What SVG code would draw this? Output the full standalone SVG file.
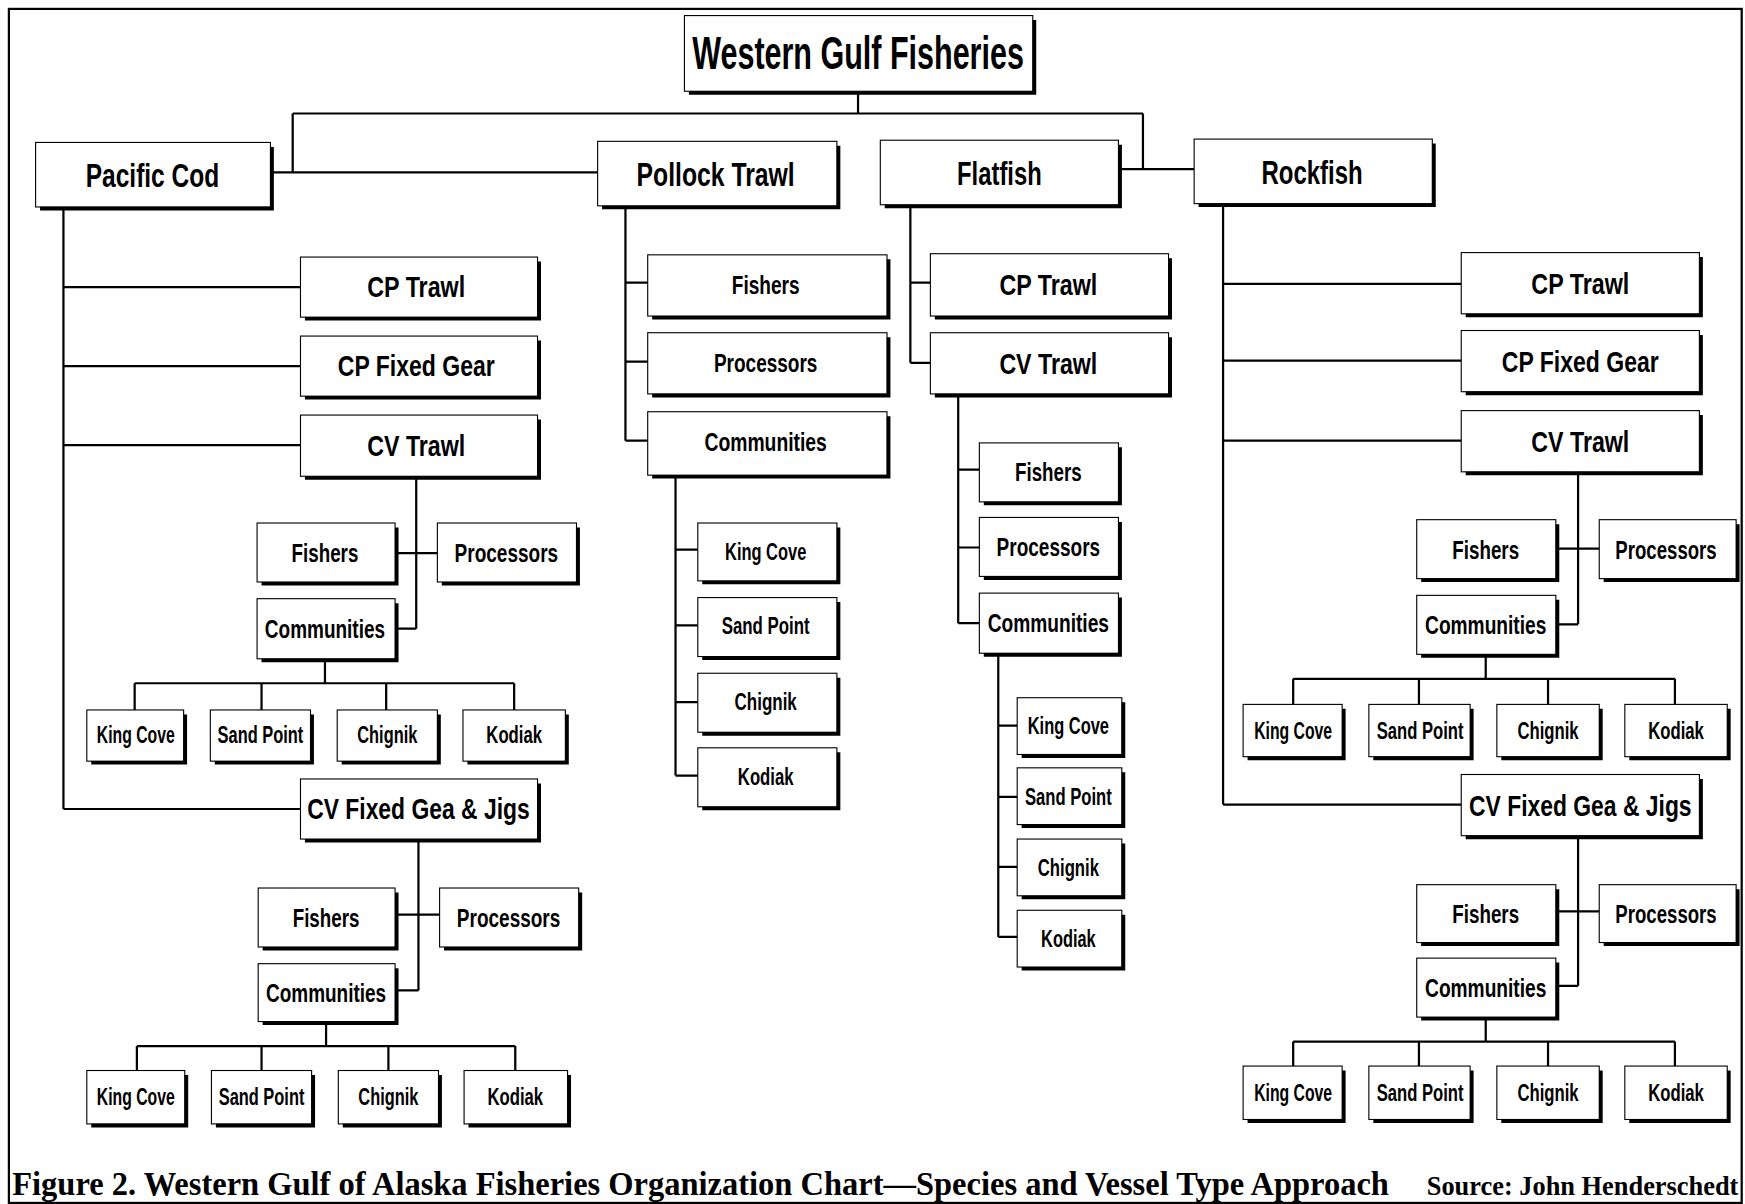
<svg xmlns="http://www.w3.org/2000/svg" width="1745" height="1204" viewBox="0 0 1745 1204">
<style>
  .box{fill:#fff;stroke:#000;stroke-width:1}
  .sh{fill:none;stroke:#000;stroke-width:3.2}
  .ln{fill:none;stroke:#000;stroke-width:2}
  .frame{fill:none;stroke:#000;stroke-width:2}
  text{font-family:"Liberation Sans",Arial,sans-serif;font-weight:bold;fill:#000;text-anchor:middle}
  .f41{font-size:41px}
  .f30{font-size:30px}
  .f27{font-size:27px}
  .f24{font-size:24px}
  .f21{font-size:21px}
  .cap{font-family:"Liberation Serif","Times New Roman",serif;font-weight:bold;text-anchor:start}
</style>
<rect x="0" y="0" width="1745" height="1204" fill="#fff"/>
<g transform="scale(1.1129,1.1128)">
<rect class="frame" x="8" y="8" width="1557" height="1073"/>

<!-- connectors -->
<g id="connectors">
<path class="ln" d="M771,82V102 M263,102H1027 M263,102V155 M1027,102V152 M243,155H537 M1005,152H1073"/>
<!-- Pacific Cod -->
<path class="ln" d="M57,186V727 M57,258H270 M57,329H270 M57,400H270 M57,727H270
 M374,428V565 M355,497H393 M355,565H374
 M292,592V614 M121,614H462 M121,614V638 M235,614V638 M347,614V638 M462,614V638
 M376,754V890 M355,822H395 M355,890H376
 M293,918V940 M123,940H463 M123,940V962 M235,940V962 M349,940V962 M463,940V962"/>
<!-- Pollock Trawl -->
<path class="ln" d="M562,185V396 M562,254H582 M562,325H582 M562,396H582
 M607,427V697 M607,494H627 M607,562H627 M607,631H627 M607,697H627"/>
<!-- Flatfish -->
<path class="ln" d="M818,184V326 M818,254H836 M818,326H836
 M861,354V560 M861,422H880 M861,492H880 M861,560H880
 M897,587V842 M897,652H914 M897,716H914 M897,779H914 M897,842H914"/>
<!-- Rockfish -->
<path class="ln" d="M1099,183V723 M1099,255H1313 M1099,324H1313 M1099,396H1313 M1099,723H1313
 M1418,424V561 M1398,493H1437 M1398,561H1418
 M1335,588V610 M1162,610H1505 M1162,610V633 M1275,610V633 M1391,610V633 M1505,610V633
 M1418,751V886 M1398,819H1437 M1398,886H1418
 M1335,914V936 M1162,936H1505 M1162,936V958 M1275,936V958 M1391,936V958 M1505,936V958"/>
</g>

<!-- root -->
<g id="n-root"><rect class="box" x="615" y="14" width="313" height="68"/><path class="sh" d="M619,83.5H929.5V18"/><text class="f41" x="771" y="62" textLength="298" lengthAdjust="spacingAndGlyphs">Western Gulf Fisheries</text></g>

<!-- species -->
<g id="n-pc"><rect class="box" x="32" y="128" width="211" height="58"/><path class="sh" d="M36,187.5H244.5V132"/><text class="f30" x="137" y="168" textLength="120" lengthAdjust="spacingAndGlyphs">Pacific Cod</text></g>
<g id="n-pt"><rect class="box" x="537" y="127" width="215" height="58"/><path class="sh" d="M541,186.5H753.5V131"/><text class="f30" x="643" y="167" textLength="142" lengthAdjust="spacingAndGlyphs">Pollock Trawl</text></g>
<g id="n-ff"><rect class="box" x="791" y="126" width="214" height="58"/><path class="sh" d="M795,185.5H1006.5V130"/><text class="f30" x="898" y="166" textLength="76" lengthAdjust="spacingAndGlyphs">Flatfish</text></g>
<g id="n-rf"><rect class="box" x="1073" y="125" width="214" height="58"/><path class="sh" d="M1077,184.5H1288.5V129"/><text class="f30" x="1179" y="165" textLength="91" lengthAdjust="spacingAndGlyphs">Rockfish</text></g>

<!-- Pacific Cod branch -->
<g id="n-pc-cpt"><rect class="box" x="270" y="231" width="213" height="54"/><path class="sh" d="M274,286.5H484.5V235"/><text class="f27" x="374" y="267" textLength="88" lengthAdjust="spacingAndGlyphs">CP Trawl</text></g>
<g id="n-pc-cpf"><rect class="box" x="270" y="302" width="213" height="54"/><path class="sh" d="M274,357.5H484.5V306"/><text class="f27" x="374" y="338" textLength="141" lengthAdjust="spacingAndGlyphs">CP Fixed Gear</text></g>
<g id="n-pc-cvt"><rect class="box" x="270" y="373" width="213" height="55"/><path class="sh" d="M274,429.5H484.5V377"/><text class="f27" x="374" y="410" textLength="88" lengthAdjust="spacingAndGlyphs">CV Trawl</text></g>
<g id="n-pc-cvt-f"><rect class="box" x="231" y="470" width="124" height="53"/><path class="sh" d="M235,524.5H356.5V474"/><text class="f24" x="292" y="505" textLength="60" lengthAdjust="spacingAndGlyphs">Fishers</text></g>
<g id="n-pc-cvt-p"><rect class="box" x="393" y="470" width="125" height="53"/><path class="sh" d="M397,524.5H519.5V474"/><text class="f24" x="455" y="505" textLength="93" lengthAdjust="spacingAndGlyphs">Processors</text></g>
<g id="n-pc-cvt-c"><rect class="box" x="231" y="538" width="124" height="54"/><path class="sh" d="M235,593.5H356.5V542"/><text class="f24" x="292" y="573" textLength="108" lengthAdjust="spacingAndGlyphs">Communities</text></g>
<g id="n-pc-cvt-kc"><rect class="box" x="78" y="638" width="87" height="46"/><path class="sh" d="M82,685.5H166.5V642"/><text class="f21" x="122" y="668" textLength="70" lengthAdjust="spacingAndGlyphs">King Cove</text></g>
<g id="n-pc-cvt-sp"><rect class="box" x="189" y="638" width="90" height="46"/><path class="sh" d="M193,685.5H280.5V642"/><text class="f21" x="234" y="668" textLength="77" lengthAdjust="spacingAndGlyphs">Sand Point</text></g>
<g id="n-pc-cvt-ch"><rect class="box" x="303" y="638" width="90" height="46"/><path class="sh" d="M307,685.5H394.5V642"/><text class="f21" x="348" y="668" textLength="54" lengthAdjust="spacingAndGlyphs">Chignik</text></g>
<g id="n-pc-cvt-ko"><rect class="box" x="416" y="638" width="92" height="46"/><path class="sh" d="M420,685.5H509.5V642"/><text class="f21" x="462" y="668" textLength="50" lengthAdjust="spacingAndGlyphs">Kodiak</text></g>
<g id="n-pc-cvf"><rect class="box" x="270" y="700" width="213" height="54"/><path class="sh" d="M274,755.5H484.5V704"/><text class="f27" x="376" y="736" textLength="200" lengthAdjust="spacingAndGlyphs">CV Fixed Gea &amp; Jigs</text></g>
<g id="n-pc-cvf-f"><rect class="box" x="232" y="798" width="123" height="53"/><path class="sh" d="M236,852.5H356.5V802"/><text class="f24" x="293" y="833" textLength="60" lengthAdjust="spacingAndGlyphs">Fishers</text></g>
<g id="n-pc-cvf-p"><rect class="box" x="395" y="798" width="125" height="53"/><path class="sh" d="M399,852.5H521.5V802"/><text class="f24" x="457" y="833" textLength="93" lengthAdjust="spacingAndGlyphs">Processors</text></g>
<g id="n-pc-cvf-c"><rect class="box" x="232" y="866" width="123" height="52"/><path class="sh" d="M236,919.5H356.5V870"/><text class="f24" x="293" y="900" textLength="108" lengthAdjust="spacingAndGlyphs">Communities</text></g>
<g id="n-pc-cvf-kc"><rect class="box" x="78" y="962" width="88" height="48"/><path class="sh" d="M82,1011.5H167.5V966"/><text class="f21" x="122" y="993" textLength="70" lengthAdjust="spacingAndGlyphs">King Cove</text></g>
<g id="n-pc-cvf-sp"><rect class="box" x="190" y="962" width="90" height="48"/><path class="sh" d="M194,1011.5H281.5V966"/><text class="f21" x="235" y="993" textLength="77" lengthAdjust="spacingAndGlyphs">Sand Point</text></g>
<g id="n-pc-cvf-ch"><rect class="box" x="304" y="962" width="90" height="48"/><path class="sh" d="M308,1011.5H395.5V966"/><text class="f21" x="349" y="993" textLength="54" lengthAdjust="spacingAndGlyphs">Chignik</text></g>
<g id="n-pc-cvf-ko"><rect class="box" x="417" y="962" width="93" height="48"/><path class="sh" d="M421,1011.5H511.5V966"/><text class="f21" x="463" y="993" textLength="50" lengthAdjust="spacingAndGlyphs">Kodiak</text></g>

<!-- Pollock Trawl branch -->
<g id="n-pt-f"><rect class="box" x="582" y="229" width="215" height="55"/><path class="sh" d="M586,285.5H798.5V233"/><text class="f24" x="688" y="264" textLength="61" lengthAdjust="spacingAndGlyphs">Fishers</text></g>
<g id="n-pt-p"><rect class="box" x="582" y="299" width="215" height="55"/><path class="sh" d="M586,355.5H798.5V303"/><text class="f24" x="688" y="334" textLength="93" lengthAdjust="spacingAndGlyphs">Processors</text></g>
<g id="n-pt-c"><rect class="box" x="582" y="370" width="215" height="57"/><path class="sh" d="M586,428.5H798.5V374"/><text class="f24" x="688" y="405" textLength="110" lengthAdjust="spacingAndGlyphs">Communities</text></g>
<g id="n-pt-kc"><rect class="box" x="627" y="470" width="125" height="52"/><path class="sh" d="M631,523.5H753.5V474"/><text class="f21" x="688" y="503" textLength="73" lengthAdjust="spacingAndGlyphs">King Cove</text></g>
<g id="n-pt-sp"><rect class="box" x="627" y="537" width="125" height="53"/><path class="sh" d="M631,591.5H753.5V541"/><text class="f21" x="688" y="570" textLength="79" lengthAdjust="spacingAndGlyphs">Sand Point</text></g>
<g id="n-pt-ch"><rect class="box" x="627" y="605" width="125" height="53"/><path class="sh" d="M631,659.5H753.5V609"/><text class="f21" x="688" y="638" textLength="56" lengthAdjust="spacingAndGlyphs">Chignik</text></g>
<g id="n-pt-ko"><rect class="box" x="627" y="672" width="125" height="53"/><path class="sh" d="M631,726.5H753.5V676"/><text class="f21" x="688" y="705" textLength="50" lengthAdjust="spacingAndGlyphs">Kodiak</text></g>

<!-- Flatfish branch -->
<g id="n-ff-cpt"><rect class="box" x="836" y="228" width="214" height="56"/><path class="sh" d="M840,285.5H1051.5V232"/><text class="f27" x="942" y="265" textLength="88" lengthAdjust="spacingAndGlyphs">CP Trawl</text></g>
<g id="n-ff-cvt"><rect class="box" x="836" y="299" width="214" height="55"/><path class="sh" d="M840,355.5H1051.5V303"/><text class="f27" x="942" y="336" textLength="88" lengthAdjust="spacingAndGlyphs">CV Trawl</text></g>
<g id="n-ff-f"><rect class="box" x="880" y="398" width="125" height="53"/><path class="sh" d="M884,452.5H1006.5V402"/><text class="f24" x="942" y="432" textLength="60" lengthAdjust="spacingAndGlyphs">Fishers</text></g>
<g id="n-ff-p"><rect class="box" x="880" y="465" width="125" height="53"/><path class="sh" d="M884,519.5H1006.5V469"/><text class="f24" x="942" y="500" textLength="93" lengthAdjust="spacingAndGlyphs">Processors</text></g>
<g id="n-ff-c"><rect class="box" x="880" y="533" width="125" height="54"/><path class="sh" d="M884,588.5H1006.5V537"/><text class="f24" x="942" y="568" textLength="109" lengthAdjust="spacingAndGlyphs">Communities</text></g>
<g id="n-ff-kc"><rect class="box" x="914" y="627" width="94" height="51"/><path class="sh" d="M918,679.5H1009.5V631"/><text class="f21" x="960" y="660" textLength="73" lengthAdjust="spacingAndGlyphs">King Cove</text></g>
<g id="n-ff-sp"><rect class="box" x="914" y="690" width="94" height="51"/><path class="sh" d="M918,742.5H1009.5V694"/><text class="f21" x="960" y="723" textLength="78" lengthAdjust="spacingAndGlyphs">Sand Point</text></g>
<g id="n-ff-ch"><rect class="box" x="914" y="754" width="94" height="51"/><path class="sh" d="M918,806.5H1009.5V758"/><text class="f21" x="960" y="787" textLength="55" lengthAdjust="spacingAndGlyphs">Chignik</text></g>
<g id="n-ff-ko"><rect class="box" x="914" y="818" width="94" height="51"/><path class="sh" d="M918,870.5H1009.5V822"/><text class="f21" x="960" y="851" textLength="49" lengthAdjust="spacingAndGlyphs">Kodiak</text></g>

<!-- Rockfish branch -->
<g id="n-rf-cpt"><rect class="box" x="1313" y="227" width="214" height="55"/><path class="sh" d="M1317,283.5H1528.5V231"/><text class="f27" x="1420" y="264" textLength="88" lengthAdjust="spacingAndGlyphs">CP Trawl</text></g>
<g id="n-rf-cpf"><rect class="box" x="1313" y="297" width="214" height="55"/><path class="sh" d="M1317,353.5H1528.5V301"/><text class="f27" x="1420" y="334" textLength="141" lengthAdjust="spacingAndGlyphs">CP Fixed Gear</text></g>
<g id="n-rf-cvt"><rect class="box" x="1313" y="369" width="214" height="55"/><path class="sh" d="M1317,425.5H1528.5V373"/><text class="f27" x="1420" y="406" textLength="88" lengthAdjust="spacingAndGlyphs">CV Trawl</text></g>
<g id="n-rf-cvt-f"><rect class="box" x="1273" y="467" width="125" height="53"/><path class="sh" d="M1277,521.5H1399.5V471"/><text class="f24" x="1335" y="502" textLength="60" lengthAdjust="spacingAndGlyphs">Fishers</text></g>
<g id="n-rf-cvt-p"><rect class="box" x="1437" y="467" width="123" height="53"/><path class="sh" d="M1441,521.5H1561.5V471"/><text class="f24" x="1497" y="502" textLength="91" lengthAdjust="spacingAndGlyphs">Processors</text></g>
<g id="n-rf-cvt-c"><rect class="box" x="1273" y="535" width="125" height="53"/><path class="sh" d="M1277,589.5H1399.5V539"/><text class="f24" x="1335" y="570" textLength="109" lengthAdjust="spacingAndGlyphs">Communities</text></g>
<g id="n-rf-cvt-kc"><rect class="box" x="1117" y="633" width="89" height="47"/><path class="sh" d="M1121,681.5H1207.5V637"/><text class="f21" x="1162" y="664" textLength="70" lengthAdjust="spacingAndGlyphs">King Cove</text></g>
<g id="n-rf-cvt-sp"><rect class="box" x="1230" y="633" width="91" height="47"/><path class="sh" d="M1234,681.5H1322.5V637"/><text class="f21" x="1276" y="664" textLength="78" lengthAdjust="spacingAndGlyphs">Sand Point</text></g>
<g id="n-rf-cvt-ch"><rect class="box" x="1345" y="633" width="92" height="47"/><path class="sh" d="M1349,681.5H1438.5V637"/><text class="f21" x="1391" y="664" textLength="55" lengthAdjust="spacingAndGlyphs">Chignik</text></g>
<g id="n-rf-cvt-ko"><rect class="box" x="1460" y="633" width="92" height="47"/><path class="sh" d="M1464,681.5H1553.5V637"/><text class="f21" x="1506" y="664" textLength="50" lengthAdjust="spacingAndGlyphs">Kodiak</text></g>
<g id="n-rf-cvf"><rect class="box" x="1313" y="696" width="214" height="55"/><path class="sh" d="M1317,752.5H1528.5V700"/><text class="f27" x="1420" y="733" textLength="200" lengthAdjust="spacingAndGlyphs">CV Fixed Gea &amp; Jigs</text></g>
<g id="n-rf-cvf-f"><rect class="box" x="1273" y="795" width="125" height="52"/><path class="sh" d="M1277,848.5H1399.5V799"/><text class="f24" x="1335" y="829" textLength="60" lengthAdjust="spacingAndGlyphs">Fishers</text></g>
<g id="n-rf-cvf-p"><rect class="box" x="1437" y="795" width="123" height="52"/><path class="sh" d="M1441,848.5H1561.5V799"/><text class="f24" x="1497" y="829" textLength="91" lengthAdjust="spacingAndGlyphs">Processors</text></g>
<g id="n-rf-cvf-c"><rect class="box" x="1273" y="861" width="125" height="53"/><path class="sh" d="M1277,915.5H1399.5V865"/><text class="f24" x="1335" y="896" textLength="109" lengthAdjust="spacingAndGlyphs">Communities</text></g>
<g id="n-rf-cvf-kc"><rect class="box" x="1117" y="958" width="89" height="48"/><path class="sh" d="M1121,1007.5H1207.5V962"/><text class="f21" x="1162" y="989" textLength="70" lengthAdjust="spacingAndGlyphs">King Cove</text></g>
<g id="n-rf-cvf-sp"><rect class="box" x="1230" y="958" width="91" height="48"/><path class="sh" d="M1234,1007.5H1322.5V962"/><text class="f21" x="1276" y="989" textLength="78" lengthAdjust="spacingAndGlyphs">Sand Point</text></g>
<g id="n-rf-cvf-ch"><rect class="box" x="1345" y="958" width="92" height="48"/><path class="sh" d="M1349,1007.5H1438.5V962"/><text class="f21" x="1391" y="989" textLength="55" lengthAdjust="spacingAndGlyphs">Chignik</text></g>
<g id="n-rf-cvf-ko"><rect class="box" x="1460" y="958" width="92" height="48"/><path class="sh" d="M1464,1007.5H1553.5V962"/><text class="f21" x="1506" y="989" textLength="50" lengthAdjust="spacingAndGlyphs">Kodiak</text></g>

<!-- caption -->
<text class="cap" x="11" y="1074" font-size="30" textLength="1237" lengthAdjust="spacingAndGlyphs">Figure 2. Western Gulf of Alaska Fisheries Organization Chart—Species and Vessel Type Approach</text>
<text class="cap" x="1282" y="1074" font-size="24" textLength="280" lengthAdjust="spacingAndGlyphs">Source: John Henderschedt</text>
</g>
</svg>
